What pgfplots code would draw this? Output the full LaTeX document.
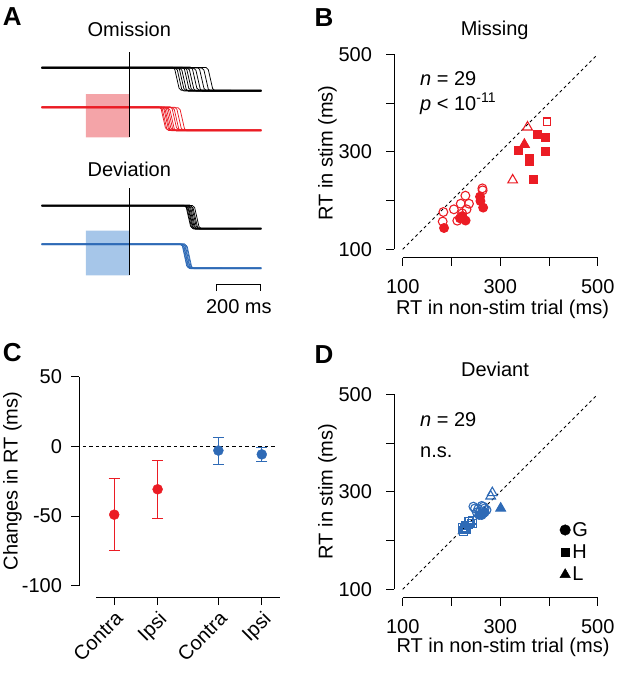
\documentclass[border=0pt]{standalone}
\usepackage{pgfplots}
\pgfplotsset{compat=1.18}
\usepackage{fontspec}
\setmainfont{Liberation Sans}
\definecolor{myred}{RGB}{235,28,36}
\definecolor{myblue}{RGB}{46,106,182}
\definecolor{boxred}{RGB}{244,164,168}
\definecolor{boxblue}{RGB}{166,198,233}
\newcommand\fs{\fontsize{20bp}{24bp}\selectfont}
\newcommand\fl{\fontsize{26bp}{30bp}\selectfont\bfseries}
\pgfplotsset{
  base/.style={scale only axis, anchor=south west, clip=false,
    axis lines*=left, tick align=outside, major tick length=8bp,
    tick style={black,line width=0.9bp}, axis line style={black,line width=0.9bp},
    ticklabel style={font=\fs}, /pgf/number format/assume math mode=true},
  scat/.style={base, width=195bp, height=195bp,
    xmin=100,xmax=500,ymin=100,ymax=500,
    axis x line shift=8.4bp, axis y line shift=8.7bp,
    xtick={100,200,300,400,500}, ytick={100,200,300,400,500},
    xticklabels={100,,300,,500}, yticklabels={100,,300,,500},
    yticklabel style={xshift=-10.5bp}, xticklabel style={yshift=-10.5bp}},
  diag/.style={black, line width=1bp, dash pattern=on 3bp off 3bp},
  tr/.style={line width=0.75bp},
  om/.style={only marks, mark options={line width=1.1bp}},
}
\begin{document}
\begin{tikzpicture}
\useasboundingbox (0,0) rectangle (617bp,-676bp);
% ---------------- Panel A ----------------
\begin{axis}[at={(40.5bp,-300bp)}, anchor=south west, scale only axis,
  width=223bp, height=260bp, xmin=-410, xmax=620, ymin=-10, ymax=250,
  hide axis, clip=false]
\addplot[fill=boxred, draw=none] coordinates {(-200,152.7)(0,152.7)(0,196)(-200,196)(-200,152.7)};
\addplot[fill=boxblue, draw=none] coordinates {(-200,14.7)(0,14.7)(0,59.3)(-200,59.3)(-200,14.7)};
% omission, control (black)
\addplot[tr,black] coordinates {(-405,222.8)(200,222.8)(210,220.8)(220,211.3)(230,201.8)(240,199.8)(610,199.8)};
\addplot[tr,black] coordinates {(-405,222.0)(212,222.0)(222,220.0)(232,210.5)(242,201.0)(252,199.0)(470,199.0)};
\addplot[tr,black] coordinates {(-405,222.5)(222,222.5)(232,220.5)(242,211.0)(252,201.5)(262,199.5)(610,199.5)};
\addplot[tr,black] coordinates {(-405,221.8)(233,221.8)(243,219.8)(253,210.3)(263,200.8)(273,198.8)(610,198.8)};
\addplot[tr,black] coordinates {(-405,222.7)(245,222.7)(255,220.7)(265,211.2)(275,201.7)(285,199.7)(470,199.7)};
\addplot[tr,black] coordinates {(-405,222.3)(256,222.3)(266,220.3)(276,210.8)(286,201.3)(296,199.3)(610,199.3)};
\addplot[tr,black] coordinates {(-405,222.1)(268,222.1)(278,220.1)(288,210.6)(298,201.1)(308,199.1)(610,199.1)};
\addplot[tr,black] coordinates {(-405,222.9)(282,222.9)(292,220.9)(302,211.4)(312,201.9)(322,199.9)(610,199.9)};
\addplot[tr,black] coordinates {(-405,221.7)(298,221.7)(308,219.7)(318,210.2)(328,200.7)(338,198.7)(610,198.7)};
\addplot[tr,black] coordinates {(-405,222.6)(315,222.6)(325,220.6)(335,211.1)(345,201.6)(355,199.6)(610,199.6)};
\addplot[tr,black] coordinates {(-405,221.9)(335,221.9)(345,219.9)(355,210.4)(365,200.9)(375,198.9)(610,198.9)};
\addplot[tr,black] coordinates {(-405,222.4)(355,222.4)(365,220.4)(375,210.9)(385,201.4)(395,199.4)(610,199.4)};
% omission, stim (red)
\addplot[tr,myred] coordinates {(-405,183.2)(137,183.2)(147,181.2)(157,171.7)(167,162.2)(177,160.2)(610,160.2)};
\addplot[tr,myred] coordinates {(-405,182.4)(143,182.4)(153,180.4)(163,170.9)(173,161.4)(183,159.4)(500,159.4)};
\addplot[tr,myred] coordinates {(-405,182.9)(150,182.9)(160,180.9)(170,171.4)(180,161.9)(190,159.9)(610,159.9)};
\addplot[tr,myred] coordinates {(-405,182.2)(156,182.2)(166,180.2)(176,170.7)(186,161.2)(196,159.2)(610,159.2)};
\addplot[tr,myred] coordinates {(-405,183.0)(162,183.0)(172,181.0)(182,171.5)(192,162.0)(202,160.0)(500,160.0)};
\addplot[tr,myred] coordinates {(-405,182.6)(170,182.6)(180,180.6)(190,171.1)(200,161.6)(210,159.6)(610,159.6)};
\addplot[tr,myred] coordinates {(-405,182.0)(178,182.0)(188,180.0)(198,170.5)(208,161.0)(218,159.0)(610,159.0)};
\addplot[tr,myred] coordinates {(-405,183.3)(188,183.3)(198,181.3)(208,171.8)(218,162.3)(228,160.3)(610,160.3)};
\addplot[tr,myred] coordinates {(-405,182.5)(198,182.5)(208,180.5)(218,171.0)(228,161.5)(238,159.5)(610,159.5)};
\addplot[tr,myred] coordinates {(-405,182.8)(210,182.8)(220,180.8)(230,171.3)(240,161.8)(250,159.8)(610,159.8)};
\addplot[tr,myred] coordinates {(-405,182.3)(225,182.3)(235,180.3)(245,170.8)(255,161.3)(265,159.3)(610,159.3)};
% deviation, control (black)
\addplot[tr,black] coordinates {(-405,84.8)(253,84.8)(263,82.8)(273,73.3)(283,63.8)(293,61.8)(610,61.8)};
\addplot[tr,black] coordinates {(-405,84.0)(257,84.0)(267,82.0)(277,72.5)(287,63.0)(297,61.0)(500,61.0)};
\addplot[tr,black] coordinates {(-405,84.5)(261,84.5)(271,82.5)(281,73.0)(291,63.5)(301,61.5)(610,61.5)};
\addplot[tr,black] coordinates {(-405,83.8)(265,83.8)(275,81.8)(285,72.3)(295,62.8)(305,60.8)(610,60.8)};
\addplot[tr,black] coordinates {(-405,84.6)(269,84.6)(279,82.6)(289,73.1)(299,63.6)(309,61.6)(500,61.6)};
\addplot[tr,black] coordinates {(-405,84.2)(274,84.2)(284,82.2)(294,72.7)(304,63.2)(314,61.2)(610,61.2)};
\addplot[tr,black] coordinates {(-405,84.9)(279,84.9)(289,82.9)(299,73.4)(309,63.9)(319,61.9)(610,61.9)};
\addplot[tr,black] coordinates {(-405,83.9)(285,83.9)(295,81.9)(305,72.4)(315,62.9)(325,60.9)(610,60.9)};
\addplot[tr,black] coordinates {(-405,84.4)(292,84.4)(302,82.4)(312,72.9)(322,63.4)(332,61.4)(610,61.4)};
% deviation, stim (blue)
\addplot[tr,myblue] coordinates {(-405,46.2)(235,46.2)(245,44.2)(255,34.2)(265,24.2)(275,22.2)(610,22.2)};
\addplot[tr,myblue] coordinates {(-405,45.4)(238,45.4)(248,43.4)(258,33.4)(268,23.4)(278,21.4)(430,21.4)};
\addplot[tr,myblue] coordinates {(-405,45.9)(241,45.9)(251,43.9)(261,33.9)(271,23.9)(281,21.9)(610,21.9)};
\addplot[tr,myblue] coordinates {(-405,45.2)(244,45.2)(254,43.2)(264,33.2)(274,23.2)(284,21.2)(610,21.2)};
\addplot[tr,myblue] coordinates {(-405,46.0)(247,46.0)(257,44.0)(267,34.0)(277,24.0)(287,22.0)(430,22.0)};
\addplot[tr,myblue] coordinates {(-405,45.6)(250,45.6)(260,43.6)(270,33.6)(280,23.6)(290,21.6)(610,21.6)};
\addplot[tr,myblue] coordinates {(-405,46.3)(254,46.3)(264,44.3)(274,34.3)(284,24.3)(294,22.3)(610,22.3)};
\addplot[tr,myblue] coordinates {(-405,45.3)(258,45.3)(268,43.3)(278,33.3)(288,23.3)(298,21.3)(610,21.3)};
% stimulus-onset lines and scale bar
\addplot[black, line width=0.9bp] coordinates {(0,152.7)(0,238.3)};
\addplot[black, line width=0.9bp] coordinates {(0,14.7)(0,102)};
\addplot[black, line width=0.9bp] coordinates {(404,-1)(404,6)(604,6)(604,-1)};
\end{axis}
\node[font=\fs, anchor=base] at (129.3bp,-36.7bp) {Omission};
\node[font=\fs, anchor=base] at (129.3bp,-176bp) {Deviation};
\node[font=\fs, anchor=base] at (238.8bp,-313.3bp) {200 ms};
% ---------------- Panel B ----------------
\begin{axis}[scat, at={(402.7bp,-249.3bp)}]
\addplot[diag] coordinates {(100,100)(500,500)};
\addplot[om, myred, mark=o, mark size=4.4bp] coordinates {(183.4,176.5)(182,157)(205,182)(219,193.5)(228.6,210)(236,193.5)(231,182)(212,158.7)(222,173.7)(263.4,225)(264,221)};
\addplot[om, myred, mark=*, mark size=4.4bp] coordinates {(184.8,143.7)(222,168)(217.5,163.6)(229,159)(258.6,208)(259.5,199)(265,185.5)};
\addplot[om, myred, mark=triangle, mark size=5.6bp] coordinates {(356,350.5)(325.6,242)};
\addplot[om, myred, mark=triangle*, mark size=5.6bp] coordinates {(349.6,315)};
\addplot[om, myred, mark=square, mark size=3.9bp] coordinates {(396,361.4)};
\addplot[om, myred, mark=square*, mark size=3.9bp] coordinates {(337,302.7)(377,336)(393,329)(392.7,300)(361,287)(361,279.5)(368,244)};
\end{axis}
\node[font=\fs, anchor=base] at (494.7bp,-35bp) {Missing};
\node[font=\fs, anchor=base west] at (416.7bp,-85bp) {\textit{n} = 29};
\node[font=\fs, anchor=base west] at (416.7bp,-110bp) {\textit{p} < 10\textsuperscript{-11}};
\node[font=\fs, anchor=base, rotate=90] at (332.7bp,-153bp) {RT in stim (ms)};
\node[font=\fs, anchor=base] at (502.5bp,-314.3bp) {RT in non-stim trial (ms)};
% ---------------- Panel C ----------------
\begin{axis}[base, at={(96bp,-585.7bp)}, width=184bp, height=209bp,
  xmin=-0.42, xmax=3.82, ymin=-100, ymax=50,
  axis x line shift=11.3bp, axis y line shift=17bp,
  xtick={0,1,2.4,3.4}, xticklabels={Contra,Ipsi,Contra,Ipsi},
  ytick={-100,-50,0,50}, yticklabels={-100,-50,0,50},
  yticklabel style={xshift=-5.5bp},
  xticklabel style={rotate=45, anchor=north east}]
\addplot[black, line width=1bp, dash pattern=on 3.5bp off 3bp] coordinates {(-0.72,0)(3.77,0)};
\addplot[only marks, mark=*, mark size=5bp, color=myred,
  error bars/.cd, y dir=both, y explicit,
  error bar style={line width=1bp, myred},
  error mark options={rotate=90, mark size=5.5bp, line width=1bp, myred}]
  coordinates {(0,-49) +- (0,26) (1,-30.8) +- (0,21)};
\addplot[only marks, mark=*, mark size=5bp, color=myblue,
  error bars/.cd, y dir=both, y explicit,
  error bar style={line width=1bp, myblue},
  error mark options={rotate=90, mark size=5.5bp, line width=1bp, myblue}]
  coordinates {(2.4,-3) +- (0,9.7) (3.4,-5.75) +- (0,5.05)};
\end{axis}
\node[font=\fs, anchor=base, rotate=90] at (17.6bp,-481bp) {Changes in RT (ms)};
% ---------------- Panel D ----------------
\begin{axis}[scat, at={(402.7bp,-589.3bp)},
  legend style={at={(axis cs:422,240)}, anchor=north west, draw=none, fill=none,
    inner sep=0pt, row sep=5bp, font=\fs, nodes={inner xsep=2bp, inner ysep=1bp}},
  legend cell align=left,
  legend image code/.code={\draw[#1] plot coordinates {(0bp,0bp)};}]
\addlegendimage{mark=*, mark size=5.3bp, black}
\addlegendentry{G}
\addlegendimage{mark=square*, mark size=4.3bp, black}
\addlegendentry{H}
\addlegendimage{mark=triangle*, mark size=6bp, black}
\addlegendentry{L}
\addplot[diag, forget plot] coordinates {(100,100)(500,500)};
\addplot[om, forget plot, myblue, mark=square, mark size=3.9bp] coordinates {(243.6,242)(243.6,235)(227.8,230)(223,221.6)(234.6,238.6)(224.5,218)(231,221.7)(223,227)(234.7,232)(240,236)(229,225)(237,240)(226,224)};
\addplot[om, forget plot, myblue, mark=o, mark size=4.4bp] coordinates {(248.3,266)(265.4,269.5)(272,262.7)(258.6,259)(245,269.6)(262,271)(255,265)(268,266)(252,258)};
\addplot[om, forget plot, myblue, mark=*, mark size=4.4bp] coordinates {(265.4,256)(262,252.4)(257,252.5)(268,258)};
\addplot[om, forget plot, myblue, mark=triangle, mark size=5.6bp] coordinates {(283.8,298)(280.5,291)};
\addplot[om, forget plot, myblue, mark=triangle*, mark size=5.6bp] coordinates {(301,266)};
\end{axis}
\node[font=\fs, anchor=base] at (495bp,-376.7bp) {Deviant};
\node[font=\fs, anchor=base west] at (416.7bp,-426bp) {\textit{n} = 29};
\node[font=\fs, anchor=base west] at (416.7bp,-457.3bp) {n.s.};
\node[font=\fs, anchor=base, rotate=90] at (332.7bp,-491.5bp) {RT in stim (ms)};
\node[font=\fs, anchor=base] at (503bp,-652.7bp) {RT in non-stim trial (ms)};
% ---------------- Panel letters ----------------
\node[font=\fl, inner sep=0pt] at (12.2bp,-17bp) {A};
\node[font=\fl, inner sep=0pt] at (324bp,-17.5bp) {B};
\node[font=\fl, inner sep=0pt] at (12.2bp,-353bp) {C};
\node[font=\fl, inner sep=0pt] at (324bp,-355bp) {D};
\end{tikzpicture}
\end{document}
